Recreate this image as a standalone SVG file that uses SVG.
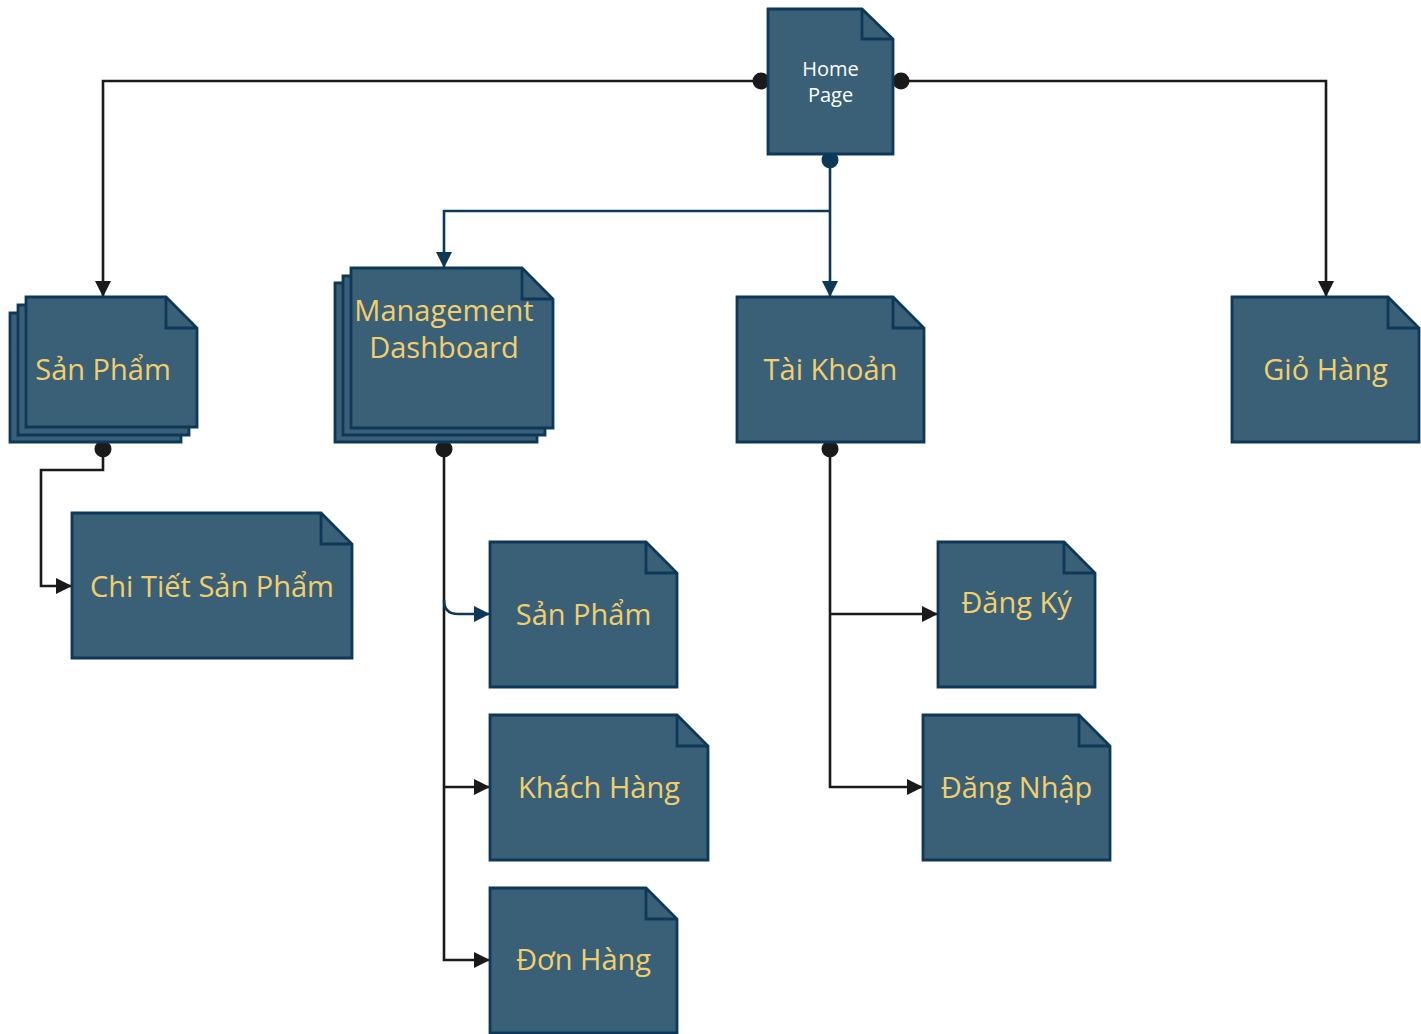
<svg xmlns="http://www.w3.org/2000/svg" width="1421" height="1034" viewBox="0 0 1421 1034">
<style>
.doc{fill:#3a6078;stroke:#0d3858;stroke-width:2.8;stroke-linejoin:miter}
.fold{fill:none;stroke:#0d3858;stroke-width:2.8}
.lbl{font-family:"Open Sans","Noto Sans","DejaVu Sans",sans-serif;font-size:29px;fill:#f2cf6c;text-anchor:middle}
.hp{font-family:"Open Sans","Noto Sans","DejaVu Sans",sans-serif;font-size:20px;fill:#ffffff;text-anchor:middle}
.ln{fill:none;stroke:#1a1a1a;stroke-width:2.6}
.lnb{fill:none;stroke:#0d3858;stroke-width:2.6}
</style>
<defs>
<marker id="ab" viewBox="0 0 16 16" refX="16" refY="8" markerWidth="16" markerHeight="16" markerUnits="userSpaceOnUse" orient="auto"><path d="M0,0 L16,8 L0,16 Z" fill="#1a1a1a"/></marker>
<marker id="au" viewBox="0 0 16 16" refX="16" refY="8" markerWidth="16" markerHeight="16" markerUnits="userSpaceOnUse" orient="auto"><path d="M0,0 L16,8 L0,16 Z" fill="#0d3858"/></marker>
</defs>
<g id="connectors">
<path class="ln" d="M761,81 H103 V297" marker-end="url(#ab)"/>
<path class="ln" d="M901,81 H1326 V297" marker-end="url(#ab)"/>
<path class="lnb" d="M830,160 V297" marker-end="url(#au)"/>
<path class="lnb" d="M830,211 H444 V268" marker-end="url(#au)"/>
<path class="ln" d="M103,449 V470 H41 V586 H72" marker-end="url(#ab)"/>
<path class="ln" d="M444,449 V960 H490" marker-end="url(#ab)"/>
<path class="lnb" d="M444,600 Q444,614 458,614 H490" marker-end="url(#au)"/>
<path class="ln" d="M444,787 H490" marker-end="url(#ab)"/>
<path class="ln" d="M830,449 V787 H923" marker-end="url(#ab)"/>
<path class="ln" d="M830,614 H938" marker-end="url(#ab)"/>
<circle cx="761" cy="81" r="8.5" fill="#1a1a1a"/>
<circle cx="901" cy="81" r="8.5" fill="#1a1a1a"/>
<circle cx="830" cy="160" r="8.5" fill="#0d3858"/>
<circle cx="103" cy="449" r="8.5" fill="#1a1a1a"/>
<circle cx="444" cy="449" r="8.5" fill="#1a1a1a"/>
<circle cx="830" cy="449" r="8.5" fill="#1a1a1a"/>
</g>
<g id="home">
<path class="doc" d="M768,9 H862 L893,39 V154 H768 Z"/>
<path class="fold" d="M862,9 V39 H893"/>
<text class="hp" x="830.5" y="76">Home</text>
<text class="hp" x="830.5" y="102">Page</text>
</g>
<g id="sanpham">
<path class="doc" d="M10,313 H150 L181,344 V442 H10 Z"/>
<path class="doc" d="M18,305 H158 L189,336 V435 H18 Z"/>
<path class="doc" d="M26,297 H166 L197,328 V427 H26 Z"/>
<path class="fold" d="M166,297 V328 H197"/>
<text class="lbl" x="103" y="380">Sản Phẩm</text>
</g>
<g id="chitiet">
<path class="doc" d="M72,513 H321 L352,544 V658 H72 Z"/>
<path class="fold" d="M321,513 V544 H352"/>
<text class="lbl" x="212" y="597">Chi Tiết Sản Phẩm</text>
</g>
<g id="management">
<path class="doc" d="M335,283 H506 L537,314 V442 H335 Z"/>
<path class="doc" d="M343,276 H514 L545,307 V435 H343 Z"/>
<path class="doc" d="M351,268 H522 L553,299 V428 H351 Z"/>
<path class="fold" d="M522,268 V299 H553"/>
<text class="lbl" x="444" y="321">Management</text>
<text class="lbl" x="444" y="358">Dashboard</text>
</g>
<g id="taikhoan">
<path class="doc" d="M737,297 H893 L924,328 V442 H737 Z"/>
<path class="fold" d="M893,297 V328 H924"/>
<text class="lbl" x="830.5" y="380">Tài Khoản</text>
</g>
<g id="giohang">
<path class="doc" d="M1232,297 H1388 L1419,328 V442 H1232 Z"/>
<path class="fold" d="M1388,297 V328 H1419"/>
<text class="lbl" x="1325.5" y="380">Giỏ Hàng</text>
</g>
<g id="sanpham2">
<path class="doc" d="M490,542 H646 L677,573 V687 H490 Z"/>
<path class="fold" d="M646,542 V573 H677"/>
<text class="lbl" x="583.5" y="625">Sản Phẩm</text>
</g>
<g id="khachhang">
<path class="doc" d="M490,715 H677 L708,746 V860 H490 Z"/>
<path class="fold" d="M677,715 V746 H708"/>
<text class="lbl" x="599" y="798">Khách Hàng</text>
</g>
<g id="donhang">
<path class="doc" d="M490,888 H646 L677,919 V1033 H490 Z"/>
<path class="fold" d="M646,888 V919 H677"/>
<text class="lbl" x="583.5" y="970">Đơn Hàng</text>
</g>
<g id="dangky">
<path class="doc" d="M938,542 H1064 L1095,573 V687 H938 Z"/>
<path class="fold" d="M1064,542 V573 H1095"/>
<text class="lbl" x="1016.5" y="613">Đăng Ký</text>
</g>
<g id="dangnhap">
<path class="doc" d="M923,715 H1079 L1110,746 V860 H923 Z"/>
<path class="fold" d="M1079,715 V746 H1110"/>
<text class="lbl" x="1016.5" y="798">Đăng Nhập</text>
</g>
</svg>
